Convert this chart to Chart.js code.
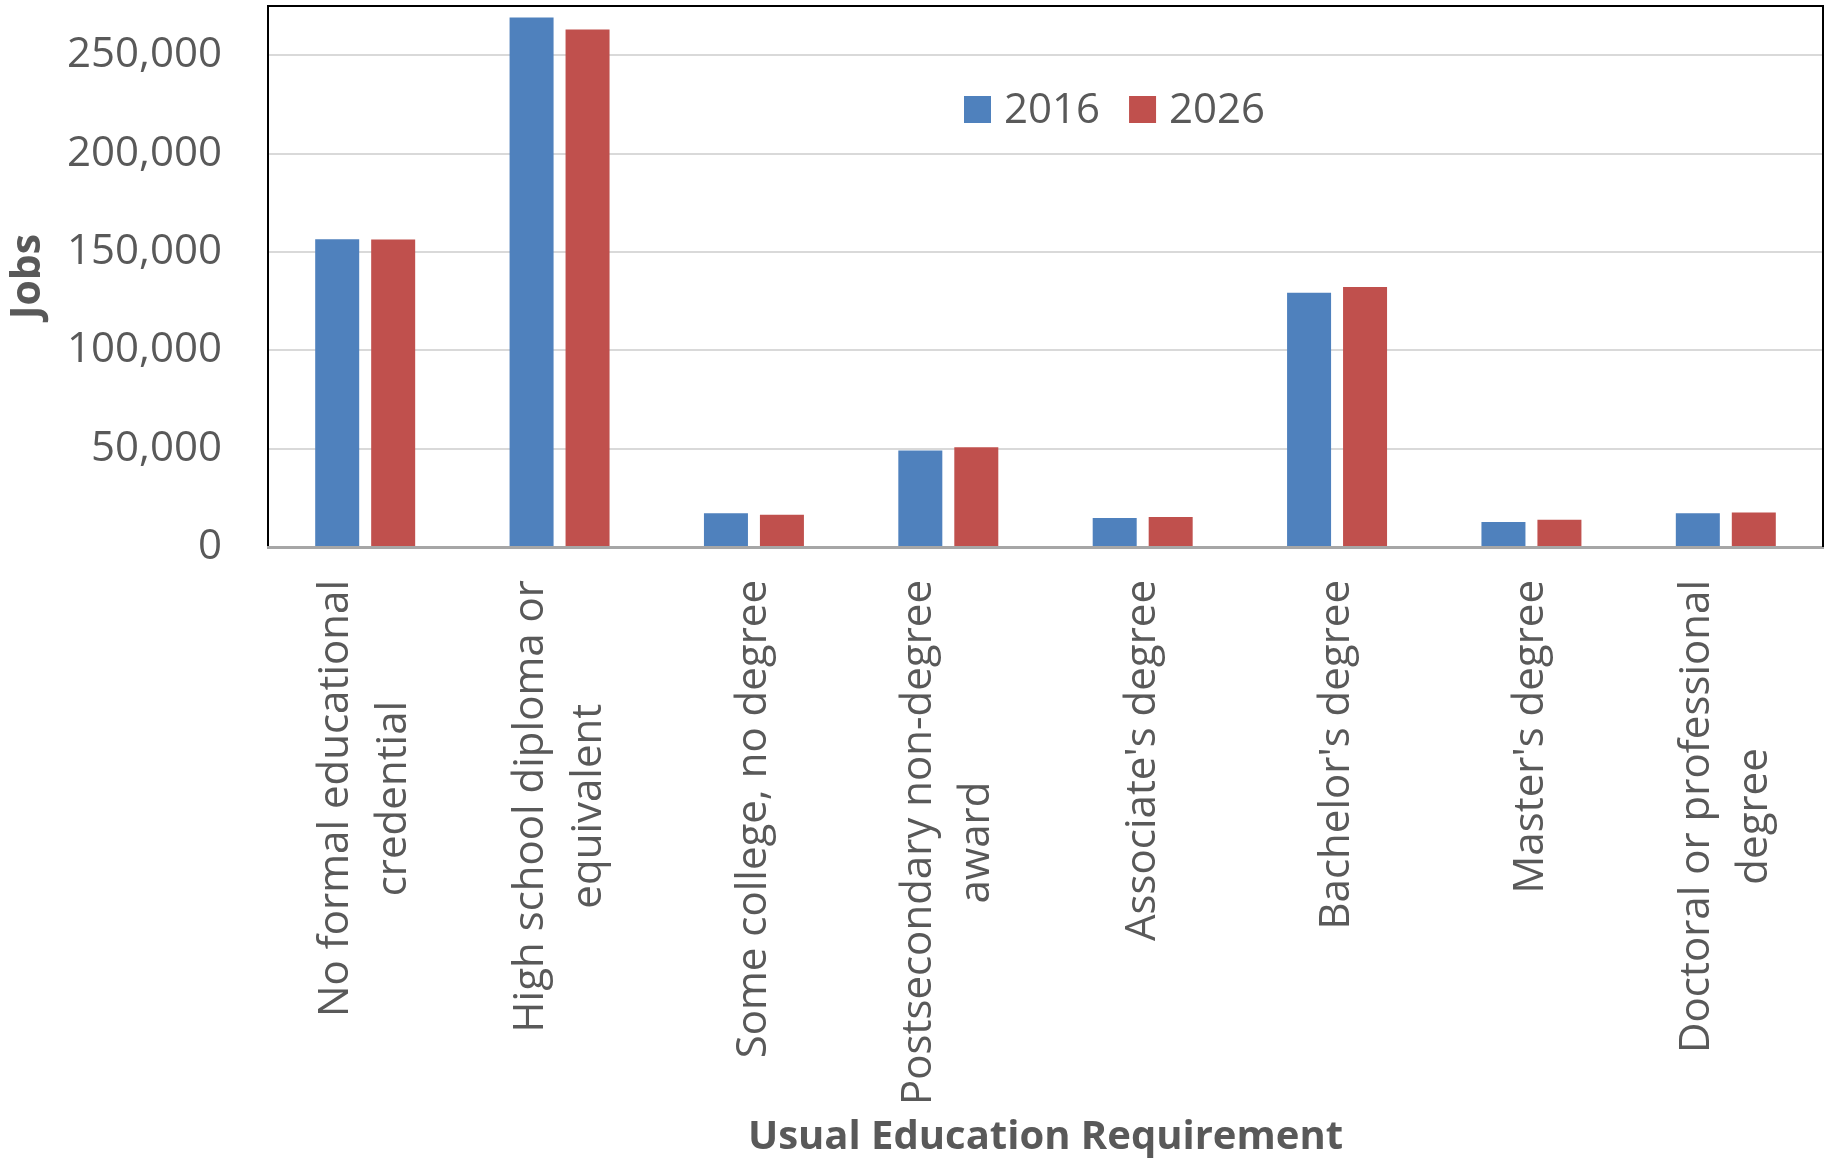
<!DOCTYPE html>
<html>
<head>
<meta charset="utf-8">
<title>Jobs by usual education requirement</title>
<script src="https://cdn.jsdelivr.net/npm/chart.js"></script>
<style>
  html, body { margin: 0; padding: 0; background: #fff; }
  #chart { display: block; }
</style>
</head>
<body>
<canvas id="chart" width="1829" height="1158"></canvas>
<script>
const categories = [
  ["No formal educational", "credential"],
  ["High school diploma or", "equivalent"],
  ["Some college, no degree"],
  ["Postsecondary non-degree", "award"],
  ["Associate's degree"],
  ["Bachelor's degree"],
  ["Master's degree"],
  ["Doctoral or professional", "degree"],
];
const seriesNames = ["2016", "2026"];
const jobs2016 = [156400, 269200, 17150, 49000, 14700, 129200, 12650, 17100];
const jobs2026 = [156300, 263100, 16400, 50700, 15200, 132100, 13800, 17550];
const yTicks = [0, 50000, 100000, 150000, 200000, 250000];
const yMax = 275000;

const TEXT = "#595959";
const BLUE = "#4F81BD";
const RED = "#C0504D";

// category labels: rotated, lines centred on each other
const categoryLabels = {
  id: "categoryLabels",
  afterDraw(chart) {
    const { ctx } = chart;
    const x = chart.scales.x;
    ctx.save();
    ctx.font = "42px 'Open Sans'";
    ctx.fillStyle = TEXT;
    ctx.textAlign = "center";
    ctx.textBaseline = "middle";
    chart.data.labels.forEach((lines, i) => {
      const longest = Math.max(...lines.map((l) => ctx.measureText(l).width));
      ctx.save();
      ctx.translate(x.getPixelForValue(i), x.top + 33 + longest / 2);
      ctx.rotate(-Math.PI / 2);
      lines.forEach((line, j) => {
        ctx.fillText(line, 0, (j - (lines.length - 1) / 2) * 58);
      });
      ctx.restore();
    });
    ctx.restore();
  },
};

// legend sits inside the plot, near the top
const insideLegend = {
  id: "insideLegend",
  afterDraw(chart) {
    const { ctx, chartArea } = chart;
    ctx.save();
    ctx.font = "42px 'Open Sans'";
    ctx.textAlign = "left";
    ctx.textBaseline = "alphabetic";
    let left = chartArea.left + 696;
    const top = chartArea.top + 90;
    for (const ds of chart.data.datasets) {
      ctx.fillStyle = ds.backgroundColor;
      ctx.fillRect(left, top, 27, 27);
      ctx.fillStyle = TEXT;
      ctx.fillText(ds.label, left + 40, top + 27);
      left += 40 + ctx.measureText(ds.label).width + 29;
    }
    ctx.restore();
  },
};

// black frame on top and right of the plot
const plotFrame = {
  id: "plotFrame",
  afterDraw(chart) {
    const { ctx, chartArea: a } = chart;
    ctx.save();
    ctx.strokeStyle = "#000";
    ctx.lineWidth = 2;
    ctx.beginPath();
    ctx.moveTo(a.left, a.top);
    ctx.lineTo(a.right, a.top);
    ctx.lineTo(a.right, a.bottom);
    ctx.stroke();
    ctx.restore();
  },
};

const $chart = document.getElementById("chart").getContext("2d");

new Chart($chart, {
  type: "bar",
  data: {
    labels: categories,
    datasets: [
      {
        label: seriesNames[0],
        data: jobs2016,
        backgroundColor: BLUE,
      },
      {
        label: seriesNames[1],
        data: jobs2026,
        backgroundColor: RED,
      },
    ],
  },
  options: {
    responsive: false,
    animation: false,
    devicePixelRatio: 1,
    categoryPercentage: 0.576,
    barPercentage: 0.786,
    layout: { padding: { top: 6, right: 6, left: 0, bottom: 0 } },
    plugins: {
      legend: { display: false },
      tooltip: { enabled: false },
    },
    scales: {
      x: {
        afterFit: (s) => {
          s.height = 611;
        },
        grid: { display: false },
        border: { color: "#A6A6A6", width: 3, z: 1 },
        ticks: { display: false },
        title: {
          display: true,
          text: "Usual Education Requirement",
          color: TEXT,
          font: { family: "Open Sans", size: 40, weight: "bold", lineHeight: 1 },
          padding: { top: 0, bottom: 0 },
        },
      },
      y: {
        min: 0,
        max: yMax,
        afterBuildTicks: (s) => {
          s.ticks = yTicks.map((value) => ({ value }));
        },
        afterFit: (s) => {
          s.width = 268;
          s.paddingTop = 0;
          s.paddingBottom = 0;
        },
        grid: { color: "#D9D9D9", lineWidth: 2, drawTicks: false },
        border: { color: "#000", width: 2 },
        ticks: {
          padding: 46,
          color: TEXT,
          font: { family: "Open Sans", size: 42 },
          callback: (v) => v.toLocaleString("en-US"),
        },
        title: {
          display: true,
          text: "Jobs",
          color: TEXT,
          font: { family: "Open Sans", size: 41, weight: "bold", lineHeight: 1 },
          padding: { top: 8, bottom: 0 },
        },
      },
    },
  },
  plugins: [categoryLabels, insideLegend, plotFrame],
});
</script>
</body>
</html>
